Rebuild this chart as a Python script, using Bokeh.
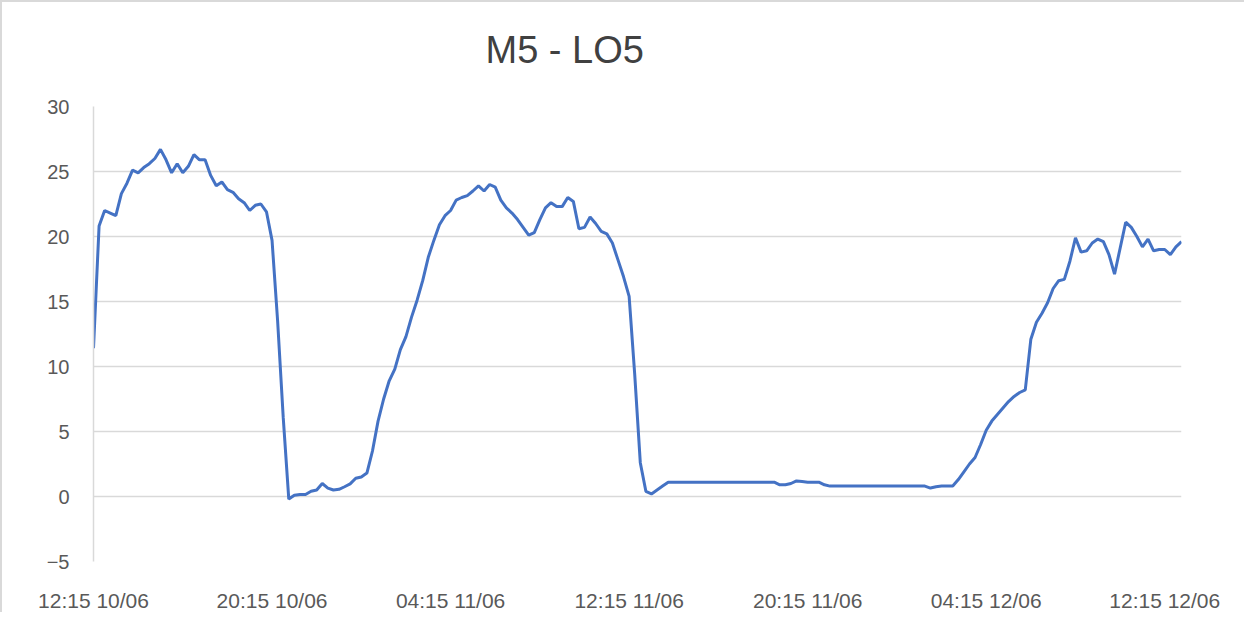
from bokeh.plotting import figure
from bokeh.models import FixedTicker, Range1d, Title
from bokeh.embed import file_html
from bokeh.resources import INLINE

# 15-minute readings, 12:15 10/06 onwards
values = [
    11.4, 20.8, 22.0, 21.8, 21.6, 23.3, 24.1, 25.1, 24.9, 25.3,
    25.6, 26.0, 26.7, 25.9, 24.9, 25.6, 24.9, 25.4, 26.3, 25.9,
    25.9, 24.7, 23.9, 24.2, 23.6, 23.4, 22.9, 22.6, 22.0, 22.4,
    22.5, 21.9, 19.7, 13.5, 6.1, -0.2, 0.1, 0.15, 0.15, 0.4,
    0.5, 1.0, 0.65, 0.5, 0.55, 0.75, 0.97, 1.4, 1.5, 1.8,
    3.5, 5.8, 7.5, 8.9, 9.8, 11.3, 12.3, 13.8, 15.1, 16.6,
    18.4, 19.7, 20.9, 21.6, 22.0, 22.8, 23.0, 23.15, 23.5, 23.9,
    23.5, 24.0, 23.8, 22.8, 22.2, 21.8, 21.3, 20.7, 20.1, 20.3,
    21.3, 22.2, 22.6, 22.3, 22.3, 23.0, 22.7, 20.6, 20.7, 21.5,
    21.0, 20.4, 20.2, 19.5, 18.2, 16.9, 15.4, 9.4, 2.6, 0.4,
    0.2, 0.5, 0.8, 1.1, 1.1, 1.1, 1.1, 1.1, 1.1, 1.1,
    1.1, 1.1, 1.1, 1.1, 1.1, 1.1, 1.1, 1.1, 1.1, 1.1,
    1.1, 1.1, 1.1, 0.9, 0.9, 1.0, 1.2, 1.15, 1.1, 1.1,
    1.1, 0.9, 0.8, 0.8, 0.8, 0.8, 0.8, 0.8, 0.8, 0.8,
    0.8, 0.8, 0.8, 0.8, 0.8, 0.8, 0.8, 0.8, 0.8, 0.8,
    0.65, 0.75, 0.8, 0.8, 0.8, 1.3, 1.9, 2.5, 3.0, 4.0,
    5.1, 5.8, 6.3, 6.8, 7.3, 7.7, 8.0, 8.2, 12.1, 13.4,
    14.1, 14.9, 16.0, 16.6, 16.7, 18.1, 19.9, 18.8, 18.9, 19.5,
    19.8, 19.6, 18.6, 17.1, 19.1, 21.1, 20.7, 20.0, 19.2, 19.8,
    18.9, 19.0, 19.0, 18.6, 19.2, 19.6,
]
reading_index = list(range(len(values)))

tick_positions = [0, 32, 64, 96, 128, 160, 192]
tick_labels = ["12:15 10/06", "20:15 10/06", "04:15 11/06", "12:15 11/06",
               "20:15 11/06", "04:15 12/06", "12:15 12/06"]
y_ticks = [-5, 0, 5, 10, 15, 20, 25, 30]
title_text = "M5 - LO5"

p = figure(width=1244, height=612, output_backend="svg", toolbar_location=None,
           x_range=Range1d(0, len(values) - 1), y_range=Range1d(-5, 30),
           min_border_left=91, min_border_right=65, min_border_top=104,
           min_border_bottom=53)
p.outline_line_color = None
p.background_fill_color = "white"
p.border_fill_color = "white"
p.styles = {"border-top": "2px solid #d9d9d9", "border-left": "2px solid #d9d9d9"}

p.line(reading_index, values, line_color="#4472C4", line_width=3)

# spacer between the frame and the title (nearest to the frame)
p.add_layout(Title(text=" ", text_font_size="10px", standoff=18), "above")
p.add_layout(Title(text=title_text, align="left", offset=392, text_font_size="38px",
                   text_font="Liberation Sans", text_font_style="normal",
                   text_color="#404040", standoff=10), "above")

p.xgrid.visible = False
p.ygrid.ticker = FixedTicker(ticks=y_ticks)
p.ygrid.grid_line_color = "#d9d9d9"
p.ygrid.grid_line_width = 1.5

p.yaxis.ticker = FixedTicker(ticks=y_ticks)
p.yaxis.axis_line_color = "#d9d9d9"
p.yaxis.axis_line_width = 1.5
p.yaxis.major_tick_line_color = None
p.yaxis.minor_tick_line_color = None
p.yaxis.major_label_standoff = 18
p.yaxis.major_label_text_font = "Liberation Sans"
p.yaxis.major_label_text_font_size = "20px"
p.yaxis.major_label_text_color = "#595959"

p.xaxis.ticker = FixedTicker(ticks=tick_positions)
p.xaxis.major_label_overrides = {pos: lab for pos, lab in zip(tick_positions, tick_labels)}
p.xaxis.axis_line_color = None
p.xaxis.major_tick_line_color = None
p.xaxis.minor_tick_line_color = None
p.xaxis.major_label_standoff = 21
p.xaxis.major_label_text_font = "Liberation Sans"
p.xaxis.major_label_text_font_size = "21px"
p.xaxis.major_label_text_color = "#595959"

open("out.html", "w").write(file_html(p, INLINE))
